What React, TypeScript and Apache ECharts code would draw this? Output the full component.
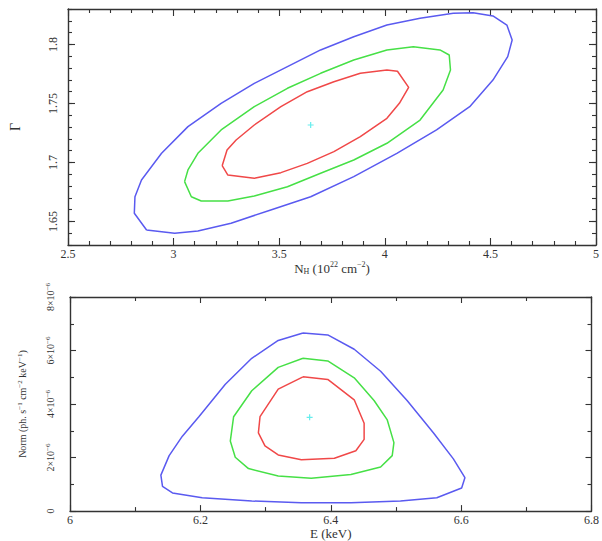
import React, { useEffect, useRef } from 'react';
import * as echarts from 'echarts';

// ---------- Axis tick values ----------
const topYMajor = [1.65, 1.7, 1.75, 1.8];

// ---------- Top panel: N_H (1e22 cm^-2) vs Gamma ----------
const topBlue: [number, number][] = [
  [2.872, 1.6427], [3.005, 1.6399], [3.115, 1.6419], [3.272, 1.6484], [3.46, 1.6597],
  [3.649, 1.6709], [3.853, 1.6879], [4.057, 1.7077], [4.245, 1.7275], [4.402, 1.7472],
  [4.512, 1.7698], [4.582, 1.7896], [4.603, 1.8037], [4.578, 1.8164], [4.512, 1.8241],
  [4.418, 1.8269], [4.324, 1.8264], [4.167, 1.8221], [4.01, 1.8164], [3.853, 1.8065],
  [3.696, 1.7953], [3.539, 1.7811], [3.382, 1.767], [3.225, 1.7501], [3.068, 1.7303],
  [2.943, 1.7077], [2.848, 1.6851], [2.817, 1.6709], [2.814, 1.6569],
];
const topGreen: [number, number][] = [
  [3.052, 1.6837], [3.084, 1.6709], [3.131, 1.6673], [3.257, 1.6673], [3.382, 1.6715],
  [3.539, 1.6794], [3.696, 1.6908], [3.853, 1.702], [4.01, 1.7162], [4.167, 1.7359],
  [4.276, 1.7614], [4.311, 1.7783], [4.305, 1.791], [4.261, 1.7953], [4.135, 1.7981],
  [4.01, 1.7953], [3.853, 1.7868], [3.696, 1.7755], [3.539, 1.7628], [3.382, 1.7472],
  [3.225, 1.7275], [3.115, 1.7077], [3.068, 1.6936],
];
const topRed: [number, number][] = [
  [3.23, 1.6972], [3.257, 1.6893], [3.382, 1.6865], [3.508, 1.6913], [3.633, 1.6992],
  [3.759, 1.7091], [3.884, 1.7218], [4.01, 1.7374], [4.069, 1.7501], [4.113, 1.7636],
  [4.06, 1.7772], [4.01, 1.7783], [3.884, 1.7755], [3.759, 1.7684], [3.633, 1.7599],
  [3.508, 1.7472], [3.382, 1.7317], [3.296, 1.719], [3.253, 1.7105],
];
const topBest: [number, number][] = [[3.649, 1.7317]];

// ---------- Bottom panel: E (keV) vs Norm ----------
const botBlue: [number, number][] = [
  [6.3574, 6.655e-6], [6.3954, 6.582e-6], [6.436, 6.048e-6], [6.4765, 5.224e-6], [6.5171, 4.133e-6],
  [6.5577, 2.921e-6], [6.5881, 1.952e-6], [6.6058, 1.248e-6], [6.6008, 0.861e-6], [6.5627, 0.497e-6],
  [6.507, 0.376e-6], [6.4309, 0.315e-6], [6.3549, 0.315e-6], [6.2788, 0.376e-6], [6.2028, 0.497e-6],
  [6.1572, 0.679e-6], [6.1419, 0.921e-6], [6.1394, 1.345e-6], [6.1521, 2.073e-6], [6.1724, 2.8e-6],
  [6.1977, 3.527e-6], [6.2383, 4.739e-6], [6.2788, 5.709e-6], [6.3194, 6.376e-6],
];
const botGreen: [number, number][] = [
  [6.3574, 5.709e-6], [6.3954, 5.612e-6], [6.436, 4.982e-6], [6.4664, 4.133e-6], [6.4867, 3.406e-6],
  [6.4969, 2.558e-6], [6.4943, 2.073e-6], [6.4765, 1.648e-6], [6.4309, 1.37e-6], [6.3701, 1.224e-6],
  [6.3194, 1.309e-6], [6.2738, 1.588e-6], [6.2535, 2.012e-6], [6.2459, 2.618e-6], [6.251, 3.527e-6],
  [6.2788, 4.497e-6], [6.3194, 5.37e-6],
];
const botRed: [number, number][] = [
  [6.3574, 5.018e-6], [6.3954, 4.921e-6], [6.436, 4.158e-6], [6.4512, 3.285e-6], [6.4512, 2.679e-6],
  [6.4385, 2.255e-6], [6.4056, 1.976e-6], [6.3549, 1.915e-6], [6.3194, 2.097e-6], [6.2991, 2.436e-6],
  [6.289, 2.921e-6], [6.2915, 3.527e-6], [6.3194, 4.558e-6],
];
const botBest: [number, number][] = [[6.3676, 3.503e-6]];

const BLUE = '#5a5af0';
const GREEN = '#46e046';
const RED = '#f04848';
const CYAN = '#40e8e8';
const FONT = "'Liberation Serif', 'Times New Roman', serif";
const TEXT = '#333';
const AXIS = '#333';

const close = (a: [number, number][]) => [...a, a[0]];

const PLUS = 'path://M4,0h2v10h-2zM0,4h10v2h-10z';

function App() {
  const ref = useRef<HTMLDivElement>(null);
  useEffect(() => {
    if (!ref.current) return;
    const chart = echarts.init(ref.current, undefined, { renderer: 'svg' });

    const line = { show: true, onZero: false, lineStyle: { color: AXIS, width: 1.4 } };
    const tickStyle = { color: AXIS, width: 1.1 };
    const noSplit = { splitLine: { show: false }, minorSplitLine: { show: false } };

    const topX = (position: string, labels: boolean) => ({
      type: 'value', gridIndex: 0, position, min: 2.5, max: 5, interval: 0.5,
      axisLine: line,
      axisTick: { show: true, inside: true, length: 7, lineStyle: tickStyle },
      minorTick: { show: true, splitNumber: 5, length: 4, lineStyle: tickStyle },
      ...noSplit,
      axisLabel: { show: labels, margin: 3, fontSize: 12, color: TEXT, fontFamily: FONT },
      ...(labels ? {
        name: '{t|N}{sub|H}{t| (10}{sup|22}{t| cm}{sup|−2}{t|)}',
        nameLocation: 'middle', nameGap: 14,
        nameTextStyle: {
          color: TEXT, fontFamily: FONT,
          rich: {
            t: { fontSize: 13, fontFamily: FONT, color: TEXT, lineHeight: 15 },
            sub: { fontSize: 8, fontFamily: FONT, color: TEXT, verticalAlign: 'bottom', lineHeight: 15 },
            sup: { fontSize: 8, fontFamily: FONT, color: TEXT, verticalAlign: 'top', lineHeight: 15 },
          },
        },
      } : {}),
    });
    const botX = (position: string, labels: boolean) => ({
      type: 'value', gridIndex: 1, position, min: 6, max: 6.8, interval: 0.2,
      axisLine: line,
      axisTick: { show: true, inside: true, length: 6, lineStyle: tickStyle },
      minorTick: { show: true, splitNumber: 2, length: 4, lineStyle: tickStyle },
      ...noSplit,
      axisLabel: { show: labels, margin: 3, fontSize: 12, color: TEXT, fontFamily: FONT },
      ...(labels ? {
        name: 'E (keV)', nameLocation: 'middle', nameGap: 15,
        nameTextStyle: { color: TEXT, fontFamily: FONT, fontSize: 13 },
      } : {}),
    });
    const topYMain = (position: string, labels: boolean) => ({
      type: 'value', gridIndex: 0, position, min: 1.63, max: 1.83,
      axisLine: line,
      axisTick: { show: true, inside: true, length: 7, lineStyle: tickStyle, customValues: topYMajor },
      minorTick: { show: false },
      ...noSplit,
      axisLabel: { show: labels, customValues: topYMajor, rotate: 90, margin: 9, fontSize: 12, color: TEXT, fontFamily: FONT },
      ...(labels ? {
        name: 'Γ', nameLocation: 'middle', nameGap: 46,
        nameTextStyle: { color: TEXT, fontFamily: FONT, fontSize: 14 },
      } : {}),
    });
    const topYMinor = (position: string) => ({
      type: 'value', gridIndex: 0, position, min: 1.63, max: 1.83, interval: 0.01,
      axisLine: { show: false, onZero: false },
      axisTick: { show: true, inside: true, length: 4, lineStyle: tickStyle },
      ...noSplit,
      axisLabel: { show: false },
    });
    const botY = (position: string, labels: boolean) => ({
      type: 'value', gridIndex: 1, position, min: 0, max: 8e-6, interval: 2e-6,
      axisLine: line,
      axisTick: { show: true, inside: true, length: 6, lineStyle: tickStyle },
      minorTick: { show: true, splitNumber: 2, length: 4, lineStyle: tickStyle },
      ...noSplit,
      axisLabel: {
        show: labels, rotate: 90, margin: 14, color: TEXT, fontFamily: FONT,
        formatter: (v: number) => {
          const n = Math.round(v * 1e6);
          return n === 0 ? '{t|0}' : `{t|${n}×10}{sup|−6}`;
        },
        rich: {
          t: { fontSize: 10, fontFamily: FONT, color: TEXT, lineHeight: 12 },
          sup: { fontSize: 7, fontFamily: FONT, color: TEXT, verticalAlign: 'top', lineHeight: 12 },
        },
      },
      ...(labels ? {
        name: '{t|Norm (ph. s}{sup|−1}{t| cm}{sup|−2}{t| keV}{sup|−1}{t|)}',
        nameLocation: 'middle', nameGap: 42,
        nameTextStyle: {
          color: TEXT, fontFamily: FONT,
          rich: {
            t: { fontSize: 10, fontFamily: FONT, color: TEXT, lineHeight: 12 },
            sup: { fontSize: 7, fontFamily: FONT, color: TEXT, verticalAlign: 'top', lineHeight: 12 },
          },
        },
      } : {}),
    });

    const contour = (data: [number, number][], color: string, xi: number, yi: number) => ({
      type: 'line', xAxisIndex: xi, yAxisIndex: yi, data: close(data),
      showSymbol: false, symbol: 'none', smooth: false,
      lineStyle: { color, width: 1.5 }, silent: true,
    });
    const best = (data: [number, number][], xi: number, yi: number) => ({
      type: 'scatter', xAxisIndex: xi, yAxisIndex: yi, data,
      symbol: PLUS, symbolSize: 6, itemStyle: { color: CYAN }, silent: true,
    });

    chart.setOption({
      animation: false,
      backgroundColor: '#fff',
      textStyle: { fontFamily: FONT },
      grid: [
        { left: 66, top: 9, width: 531, height: 236, containLabel: false },
        { left: 70, top: 297, width: 526, height: 220, containLabel: false },
      ],
      xAxis: [topX('bottom', true), topX('top', false), botX('bottom', true), botX('top', false)],
      yAxis: [
        topYMain('left', true), topYMain('right', false), topYMinor('left'), topYMinor('right'),
        botY('left', true), botY('right', false),
      ],
      series: [
        contour(topBlue, BLUE, 0, 0),
        contour(topGreen, GREEN, 0, 0),
        contour(topRed, RED, 0, 0),
        best(topBest, 0, 0),
        contour(botBlue, BLUE, 2, 4),
        contour(botGreen, GREEN, 2, 4),
        contour(botRed, RED, 2, 4),
        best(botBest, 2, 4),
      ],
    });
    return () => chart.dispose();
  }, []);
  return <div ref={ref} style={{ position: 'absolute', left: 0, top: 0, width: 602, height: 541 }} />;
}

export default App;
